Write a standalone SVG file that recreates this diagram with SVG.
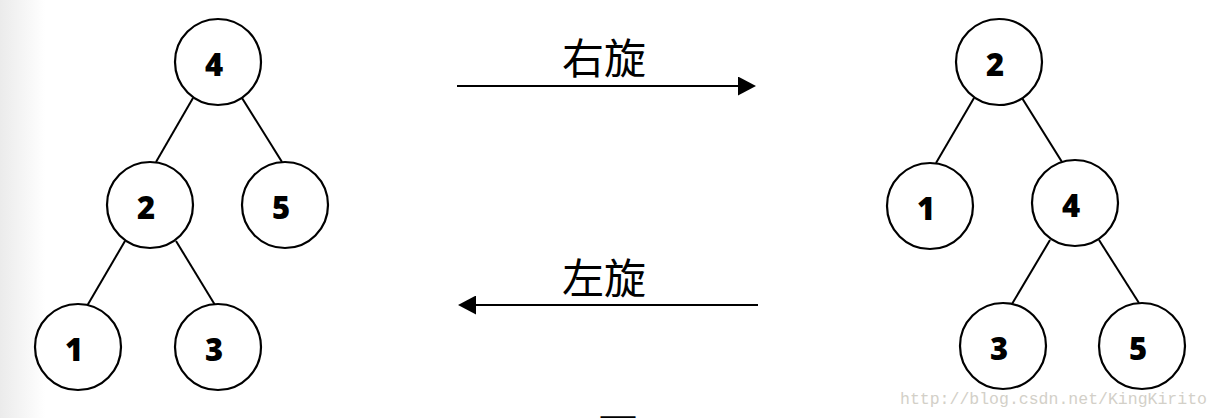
<svg xmlns="http://www.w3.org/2000/svg" width="1220" height="418" viewBox="0 0 1220 418">
<style>
.n circle{fill:#fff;stroke:#000;stroke-width:2.2}
.n text{font-family:"Open Sans","Liberation Sans",sans-serif;font-weight:800;font-size:31px;text-anchor:middle;fill:#000}
.e line{stroke:#000;stroke-width:2}
.lbl{font-family:"Noto Sans CJK SC",sans-serif;font-size:42px;text-anchor:middle;fill:#000}
.wm{font-family:"Liberation Mono",monospace;font-size:16.5px;fill:#d3d0c8}
</style>
<defs>
<linearGradient id="lg" x1="0" x2="1" y1="0" y2="0">
<stop offset="0" stop-color="#ebebeb"/>
<stop offset="1" stop-color="#ffffff"/>
</linearGradient>
<marker id="ah" viewBox="0 0 18 19" refX="0" refY="9.5" markerWidth="18" markerHeight="19" markerUnits="userSpaceOnUse" orient="auto">
<path d="M0,0 L18,9.5 L0,19 Z" fill="#000"/>
</marker>
</defs>
<rect width="1220" height="418" fill="#fff"/>
<rect width="45" height="418" fill="url(#lg)"/>
<g id="connectors" class="e">
<line x1="193" y1="98" x2="156" y2="162"/>
<line x1="242" y1="98" x2="282" y2="162"/>
<line x1="125" y1="241" x2="87" y2="306"/>
<line x1="176" y1="241" x2="215" y2="305"/>
<line x1="974" y1="98" x2="936" y2="163"/>
<line x1="1022" y1="98" x2="1062" y2="162"/>
<line x1="1050" y1="240" x2="1012" y2="304"/>
<line x1="1099" y1="240" x2="1139" y2="303"/>
<line x1="457" y1="86" x2="738" y2="86" marker-end="url(#ah)"/>
<line x1="758" y1="305" x2="476" y2="305" marker-end="url(#ah)"/>
</g>
<g id="L4" class="n"><circle cx="218" cy="62" r="43"/><text x="214" y="76">4</text></g>
<g id="L2" class="n"><circle cx="150" cy="205" r="43"/><text x="146" y="219">2</text></g>
<g id="L5" class="n"><circle cx="285" cy="205" r="43"/><text x="281" y="219">5</text></g>
<g id="L1" class="n"><circle cx="78" cy="347" r="43"/><text x="74" y="361">1</text></g>
<g id="L3" class="n"><circle cx="218" cy="347" r="43"/><text x="214" y="361">3</text></g>
<g id="R2" class="n"><circle cx="999" cy="62" r="43"/><text x="995" y="76">2</text></g>
<g id="R1" class="n"><circle cx="930" cy="206" r="43"/><text x="926" y="220">1</text></g>
<g id="R4" class="n"><circle cx="1075" cy="203" r="43"/><text x="1071" y="217">4</text></g>
<g id="R3" class="n"><circle cx="1003" cy="346" r="43"/><text x="999" y="360">3</text></g>
<g id="R5" class="n"><circle cx="1142" cy="346" r="43"/><text x="1138" y="360">5</text></g>
<text class="lbl" x="604" y="74">右旋</text>
<text class="lbl" x="604" y="294">左旋</text>
<text class="lbl" x="618" y="450">图</text>
<text class="wm" x="900" y="404">http://blog.csdn.net/KingKirito</text>
</svg>
